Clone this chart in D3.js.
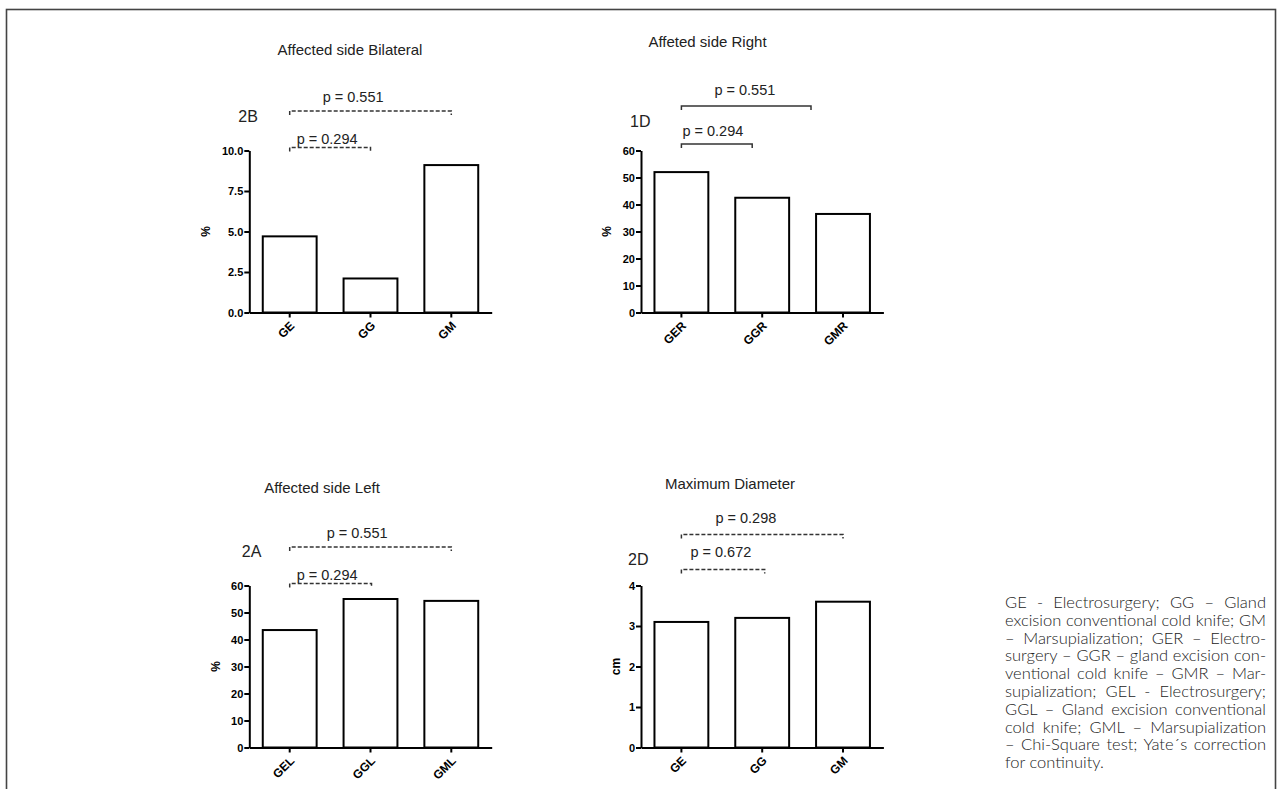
<!DOCTYPE html>
<html>
<head>
<meta charset="utf-8">
<script src="https://cdn.jsdelivr.net/npm/d3@7"></script>
<style>
  body { margin: 0; background: #fff; }
  #fig { position: relative; width: 1277px; height: 789px; overflow: hidden; }
  svg { position: absolute; left: 0; top: 0; }
  .axis path, .axis line { stroke: #000; stroke-width: 2px; }
  .axis text { font-family: "Liberation Sans", Arial, sans-serif; font-weight: bold; font-size: 11px; fill: #000; }
  .xaxis text { font-size: 12px; }
  .title { font-family: "Liberation Sans", Arial, sans-serif; font-size: 15px; fill: #222; }
  .ptext { font-family: "Liberation Sans", Arial, sans-serif; font-size: 14.5px; fill: #222; }
  .tag { font-family: "Liberation Sans", Arial, sans-serif; font-size: 16px; fill: #222; }
  .ylab { font-family: "Liberation Sans", Arial, sans-serif; font-weight: bold; font-size: 12px; fill: #000; }
  #caption { position: absolute; left: 1005px; top: 594px; width: 261px;
             font-family: Lato, "Open Sans", sans-serif; font-weight: 300; font-size: 16.5px;
             line-height: 17.8px; color: #222; }
  #caption div { text-align: justify; text-align-last: justify; white-space: nowrap; }
  #caption div.last { text-align-last: left; }
</style>
</head>
<body>
<div id="fig"></div>
<script>
// data
var bilateralCats = ["GE", "GG", "GM"];
var bilateralVals = [4.7, 2.1, 9.1];
var bilateralTicks = [0, 2.5, 5, 7.5, 10];

var rightCats = ["GER", "GGR", "GMR"];
var rightVals = [52, 42.5, 36.5];

var leftCats = ["GEL", "GGL", "GML"];
var leftVals = [43.5, 55, 54.3];
var percentTicks = [0, 10, 20, 30, 40, 50, 60];

var diameterCats = ["GE", "GG", "GM"];
var diameterVals = [3.1, 3.2, 3.6];
var cmTicks = [0, 1, 2, 3, 4];

var captionLines = [
  "GE - Electrosurgery; GG \u2013 Gland",
  "excision conventional cold knife; GM",
  "\u2013 Marsupialization; GER \u2013 Electro-",
  "surgery \u2013 GGR \u2013 gland excision con-",
  "ventional cold knife \u2013 GMR \u2013 Mar-",
  "supialization; GEL - Electrosurgery;",
  "GGL \u2013 Gland excision conventional",
  "cold knife; GML \u2013 Marsupialization",
  "\u2013 Chi-Square test; Yate\u00b4s correction",
  "for continuity."
];

// layout of the four panels
var W = 242.4, H = 162;
var panels = [
  {cats: bilateralCats, vals: bilateralVals, ticks: bilateralTicks, fmt: ".1f",
   title: "Affected side Bilateral", titleX: 350, titleY: 55,
   tag: "2B", tagX: -11, tagY: -28.5, ylab: "%", ylabX: -44,
   left: 249.3, top: 150.5, dashed: true,
   brackets: [
     {from: "GE", to: "GM", end: 0, dy: -39.5, text: "p = 0.551", tx: 33, ty: -9},
     {from: "GE", to: "GG", end: 0, dy: -3, text: "p = 0.294", tx: 7, ty: -4}
   ]},
  {cats: rightCats, vals: rightVals, ticks: percentTicks, fmt: "d",
   title: "Affeted side Right", titleX: 707.5, titleY: 46.5,
   tag: "1D", tagX: -11, tagY: -24, ylab: "%", ylabX: -34.5,
   left: 641, top: 150.5, dashed: false,
   brackets: [
     {from: "GER", to: "GMR", end: -32, dy: -44.5, text: "p = 0.551", tx: 33, ty: -11},
     {from: "GER", to: "GGR", end: -10, dy: -6.5, text: "p = 0.294", tx: 1, ty: -8}
   ]},
  {cats: leftCats, vals: leftVals, ticks: percentTicks, fmt: "d",
   title: "Affected side Left", titleX: 322, titleY: 492.5,
   tag: "2A", tagX: -7.5, tagY: -29, ylab: "%", ylabX: -33.5,
   left: 249.3, top: 585.5, dashed: true,
   brackets: [
     {from: "GEL", to: "GML", end: 0, dy: -38.5, text: "p = 0.551", tx: 37, ty: -9.5},
     {from: "GEL", to: "GGL", end: 1, dy: -2, text: "p = 0.294", tx: 7, ty: -4}
   ]},
  {cats: diameterCats, vals: diameterVals, ticks: cmTicks, fmt: "d",
   title: "Maximum Diameter", titleX: 730, titleY: 489,
   tag: "2D", tagX: -13, tagY: -21, ylab: "cm", ylabX: -25.5,
   left: 641, top: 585.5, dashed: true,
   brackets: [
     {from: "GE", to: "GM", end: 0, dy: -51, text: "p = 0.298", tx: 34, ty: -11.5},
     {from: "GE", to: "GG", end: 2.5, dy: -16, text: "p = 0.672", tx: 9, ty: -12.5}
   ]}
];

var fig = d3.select("#fig");
var svg = fig.append("svg").attr("width", 1277).attr("height", 789);

// outer frame
svg.append("rect")
  .attr("x", 6.5).attr("y", 9.5)
  .attr("width", 1269).attr("height", 800)
  .attr("fill", "none").attr("stroke", "#444").attr("stroke-width", 1.6);

panels.forEach(drawPanel);

function drawPanel(p) {
  var x = d3.scaleBand()
    .domain(p.cats)
    .range([0, W])
    .paddingInner(1 / 3)
    .paddingOuter(1 / 6);
  var y = d3.scaleLinear()
    .domain([0, d3.max(p.ticks)])
    .range([H, 0]);

  svg.append("text")
    .attr("class", "title")
    .attr("x", p.titleX).attr("y", p.titleY)
    .attr("text-anchor", "middle")
    .text(p.title);

  var g = svg.append("g")
    .attr("transform", "translate(" + p.left + "," + p.top + ")");

  // bars
  g.selectAll(".bar")
    .data(p.vals)
    .enter().append("rect")
      .attr("class", "bar")
      .attr("x", (d, i) => x(p.cats[i]))
      .attr("width", x.bandwidth())
      .attr("y", d => y(d))
      .attr("height", d => H - y(d))
      .attr("fill", "#fff")
      .attr("stroke", "#000")
      .attr("stroke-width", 2);

  // x axis
  g.append("g")
    .attr("class", "axis xaxis")
    .attr("transform", "translate(0," + H + ")")
    .call(d3.axisBottom(x).tickSizeInner(5).tickSizeOuter(0))
    .selectAll("text")
      .attr("text-anchor", "end")
      .attr("dy", null)
      .attr("y", null)
      .attr("transform", "translate(5.5,14) rotate(-45)");

  // y axis
  g.append("g")
    .attr("class", "axis")
    .call(d3.axisLeft(y).tickValues(p.ticks).tickFormat(d3.format(p.fmt))
            .tickSizeInner(5).tickSizeOuter(0).tickPadding(1));

  g.append("text")
    .attr("class", "ylab")
    .attr("transform", "translate(" + p.ylabX + "," + (H / 2) + ") rotate(-90)")
    .attr("text-anchor", "middle")
    .attr("dy", "0.35em")
    .text(p.ylab);

  g.append("text")
    .attr("class", "tag")
    .attr("x", p.tagX).attr("y", p.tagY)
    .text(p.tag);

  // significance brackets
  p.brackets.forEach(function(b) {
    var x1 = x(b.from) + x.bandwidth() / 2,
        x2 = x(b.to) + x.bandwidth() / 2 + b.end,
        yb = b.dy;
    g.append("path")
      .attr("d", "M" + x1 + "," + (yb + 4) + "V" + yb + "H" + x2 + "V" + (yb + 4))
      .attr("fill", "none")
      .attr("stroke", "#333")
      .attr("stroke-width", 1.5)
      .attr("stroke-dasharray", p.dashed ? "4,2" : null);
    g.append("text")
      .attr("class", "ptext")
      .attr("x", x1 + b.tx)
      .attr("y", yb + b.ty)
      .text(b.text);
  });
}

// caption on the right
fig.append("div")
  .attr("id", "caption")
  .selectAll("div")
  .data(captionLines)
  .enter().append("div")
    .attr("class", (d, i) => i == captionLines.length - 1 ? "last" : null)
    .text(d => d);
</script>
</body>
</html>
